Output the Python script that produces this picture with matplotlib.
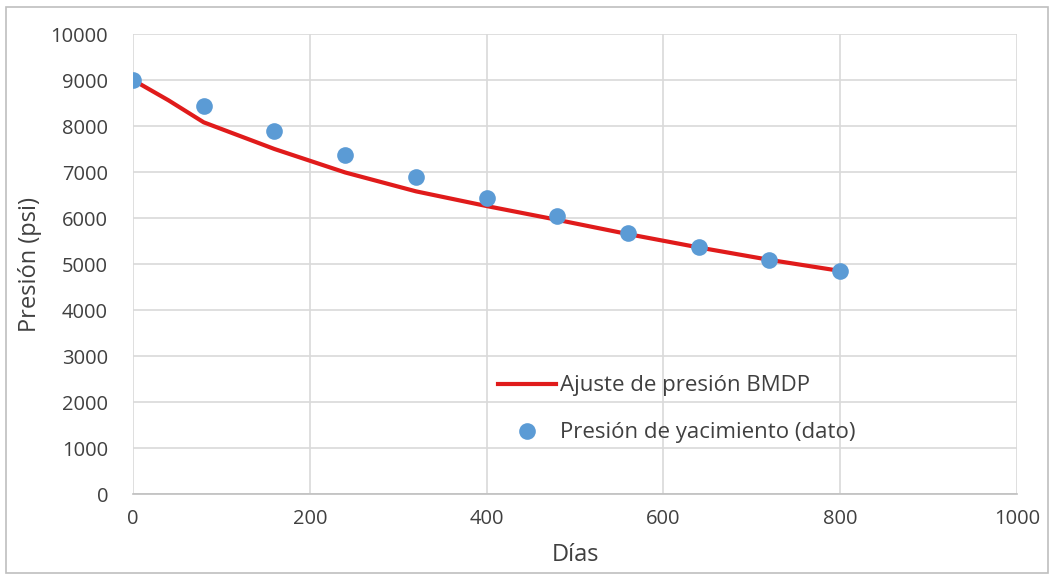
import matplotlib.pyplot as plt
from matplotlib.patches import Rectangle

# ── Datos ─────────────────────────────────────────────────────────────────────
dias_dato = [0, 80, 160, 240, 320, 400, 480, 560, 640, 720, 800]
presion_dato = [9000, 8440, 7900, 7370, 6890, 6440, 6040, 5680, 5360, 5080, 4840]

dias_ajuste = [0, 40, 80, 120, 160, 240, 320, 400, 480, 560, 640, 720, 800]
presion_ajuste = [9000, 8560, 8080, 7790, 7500, 6990, 6580, 6260, 5960, 5650, 5360, 5090, 4850]

x_ticks = [0, 200, 400, 600, 800, 1000]
y_ticks = list(range(0, 10001, 1000))

plt.rcParams['font.family'] = ['Open Sans', 'DejaVu Sans']

fig = plt.figure(figsize=(10.56, 5.77), dpi=100)
ax = fig.add_axes([133 / 1056, 1 - 494 / 577, (1017 - 133) / 1056, (494 - 34) / 577])

ax.plot(dias_ajuste, presion_ajuste, color='#e01b1b', linewidth=3,
        label='Ajuste de presión BMDP', zorder=3)
ax.plot(dias_dato, presion_dato, 'o', color='#5b9bd5', markersize=12,
        markeredgewidth=0, label='Presión de yacimiento (dato)', zorder=4)

ax.set_xlim(0, 1000)
ax.set_ylim(0, 10000)
ax.set_xticks(x_ticks)
ax.set_yticks(y_ticks)
ax.grid(color='#d9d9d9', linewidth=1.2)
ax.set_axisbelow(True)
for s in ['top', 'right', 'left']:
    ax.spines[s].set_visible(False)
ax.spines['bottom'].set_color('#bfbfbf')
ax.spines['bottom'].set_linewidth(1.2)
ax.tick_params(axis='y', length=0, labelsize=14.5, colors='#404040', pad=18)
ax.tick_params(axis='x', length=0, labelsize=14.5, colors='#404040', pad=11)

ax.set_xlabel('Días', fontsize=17, color='#404040', labelpad=10)
ax.set_ylabel('Presión (psi)', fontsize=17, color='#404040', labelpad=6)

ax.legend(loc='upper left', bbox_to_anchor=(0.413, 0.258), frameon=False,
          borderpad=0, borderaxespad=0,
          fontsize=16, handlelength=2.6, handletextpad=0.2, labelspacing=1.17,
          labelcolor='#404040')

fig.patches.append(Rectangle((6 / 1056, 4 / 577), 1042 / 1056, 566 / 577,
                             transform=fig.transFigure, fill=False,
                             edgecolor='#bfbfbf', linewidth=1.2))

fig.savefig('out.png', dpi=100)
